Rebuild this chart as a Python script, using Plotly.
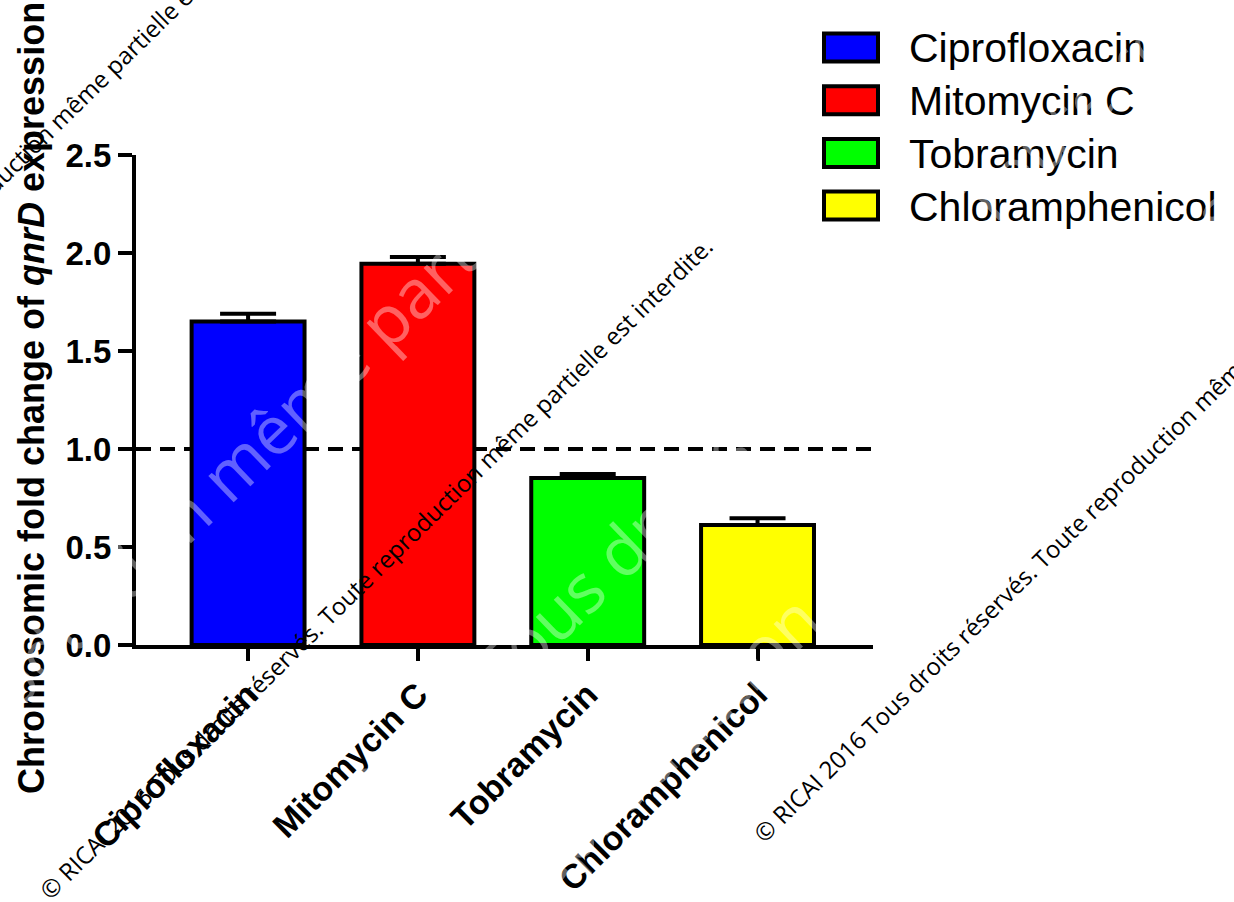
import plotly.graph_objects as go

# Fold change of chromosomic qnrD expression per antibiotic (mean + SEM)
drugs = ["Ciprofloxacin", "Mitomycin C", "Tobramycin", "Chloramphenicol"]
fold_change = [1.65, 1.945, 0.852, 0.612]
sem = [0.04, 0.035, 0.02, 0.035]
bar_colors = ["#0000FF", "#FF0000", "#00FF00", "#FFFF00"]
y_ticks = [0.0, 0.5, 1.0, 1.5, 2.0, 2.5]
baseline = 1.0

notice = ("© RICAI 2016 Tous droits réservés. "
          "Toute reproduction même partielle est interdite.")

# Page geometry (pixels)
W, H = 1234, 902
L, R, T, B = 136, 873, 155, 645
FONT = "Liberation Sans, Arial, sans-serif"


def fx(p):
    return (p - L) / (R - L)


def fy(p):
    return (B - p) / (B - T)


fig = go.Figure()
fig.add_trace(go.Bar(
    x=list(range(len(drugs))),
    y=fold_change,
    width=0.665,
    marker=dict(color=bar_colors, line=dict(color="black", width=4)),
    error_y=dict(type="data", array=sem, arrayminus=[0] * len(sem),
                 symmetric=False, color="black", thickness=4, width=28),
    showlegend=False,
))

shapes = [
    # reference level at fold change = 1
    dict(type="line", xref="paper", yref="y", x0=0, x1=1,
         y0=baseline, y1=baseline, layer="below",
         line=dict(color="black", width=4, dash="15px,9px")),
]
annotations = [
    dict(text="<b>Chromosomic fold change of <i>qnrD</i> expression</b>",
         textangle=-90, xref="paper", yref="paper",
         x=fx(31), y=fy(398), xanchor="center", yanchor="middle",
         showarrow=False, font=dict(family=FONT, size=36, color="black")),
]

# legend: outlined swatches with labels
for i, (name, col) in enumerate(zip(drugs, bar_colors)):
    cy = 47.5 + 52.7 * i
    shapes.append(dict(type="rect", xref="paper", yref="paper",
                       x0=fx(824), x1=fx(878), y0=fy(cy + 14), y1=fy(cy - 14),
                       fillcolor=col, line=dict(color="black", width=4)))
    annotations.append(dict(text=name, xref="paper", yref="paper",
                            x=fx(907), y=fy(cy + 1), xanchor="left",
                            yanchor="middle", showarrow=False,
                            font=dict(family=FONT, size=41, color="black")))

# large faint notice lines crossing the bars
for cx, cy in [(-93, 780), (1121, 65), (515, 887)]:
    annotations.append(dict(text=notice, textangle=-44, xref="paper",
                            yref="paper", x=fx(cx), y=fy(cy),
                            xanchor="center", yanchor="middle",
                            showarrow=False,
                            font=dict(family="Open Sans", size=68,
                                      color="rgba(255,255,255,0.38)")))

# small copyright notice lines
for cx, cy in [(-54, 229), (375, 568), (1089, 511)]:
    annotations.append(dict(text=notice, textangle=-44.5, xref="paper",
                            yref="paper", x=fx(cx), y=fy(cy),
                            xanchor="center", yanchor="middle",
                            showarrow=False,
                            font=dict(family="Open Sans", size=24,
                                      color="black")))

fig.update_layout(
    width=W, height=H,
    margin=dict(l=L, r=W - R, t=T, b=H - B, pad=0, autoexpand=False),
    paper_bgcolor="white", plot_bgcolor="white",
    shapes=shapes, annotations=annotations,
    bargap=0.3,
)
fig.update_xaxes(
    range=[-0.66, 3.68], tickvals=list(range(len(drugs))), ticktext=drugs,
    tickangle=-45, showline=True, linecolor="black", linewidth=4,
    ticks="outside", ticklen=12, tickwidth=4, tickcolor="black",
    showgrid=False, zeroline=False, automargin=False,
    tickfont=dict(family=FONT, size=34, color="black", weight="bold"),
)
fig.update_yaxes(
    range=[0, 2.5], tickvals=y_ticks, tickformat=".1f",
    showline=True, linecolor="black", linewidth=4,
    ticks="outside", ticklen=14, tickwidth=4, tickcolor="black",
    showgrid=False, zeroline=False, automargin=False,
    tickfont=dict(family=FONT, size=33, color="black", weight="bold"),
)

fig.write_html("out.html")
